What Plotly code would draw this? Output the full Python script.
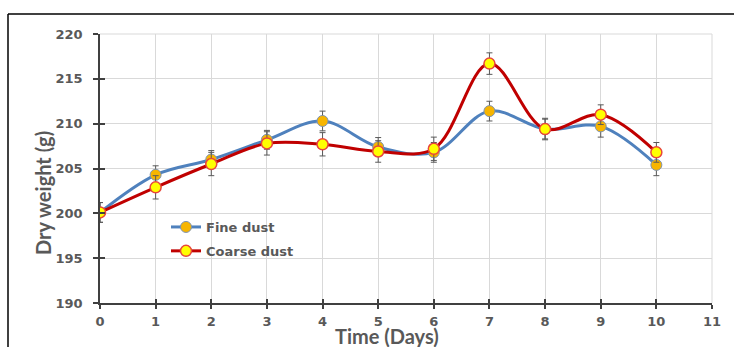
import plotly.graph_objects as go

days = [0, 1, 2, 3, 4, 5, 6, 7, 8, 9, 10]
fine = [200.1, 204.3, 206.0, 208.2, 210.3, 207.4, 206.8, 211.4, 209.4, 209.7, 205.4]
fine_err = [1.1, 1.0, 1.0, 1.05, 1.1, 1.05, 1.1, 1.1, 1.2, 1.2, 1.2]
coarse = [200.1, 202.9, 205.5, 207.8, 207.7, 206.9, 207.2, 216.7, 209.4, 211.0, 206.8]
coarse_err = [1.1, 1.3, 1.3, 1.3, 1.3, 1.2, 1.3, 1.2, 1.1, 1.1, 1.1]
x_ticks = list(range(0, 12))
y_ticks = [190, 195, 200, 205, 210, 215, 220]

W, H = 734, 347
L, R, T, B = 100, 22, 34, 44
pw, ph = W - L - R, H - T - B

def px_x(p):
    return (p - L) / pw

def px_y(p):
    return (H - B - p) / ph

GRAY = "#595959"
tick_font = dict(family="DejaVu Sans", size=13, color=GRAY, weight="bold")

fig = go.Figure()
fig.add_trace(go.Scatter(
    x=days, y=fine, name="Fine dust", mode="lines+markers", legendgroup="a",
    line=dict(color="#4F81BD", width=3, shape="spline"),
    marker=dict(size=11, color="#F7B500", line=dict(color="#7F93B0", width=1)),
    error_y=dict(type="data", array=fine_err, visible=True, color=GRAY, thickness=1, width=3),
))
fig.add_trace(go.Scatter(
    x=days, y=coarse, name="Coarse dust", mode="lines+markers", legendgroup="b",
    line=dict(color="#C00000", width=3, shape="spline"),
    marker=dict(size=11, color="#FFFF00", line=dict(color="#E8463C", width=1.5)),
    error_y=dict(type="data", array=coarse_err, visible=True, color=GRAY, thickness=1, width=3),
))

fig.update_layout(
    width=W, height=H,
    margin=dict(l=L, r=R, t=T, b=B),
    paper_bgcolor="white", plot_bgcolor="white",
    showlegend=True,
    legend=dict(x=px_x(166), y=px_y(212), xanchor="left", yanchor="top",
                bgcolor="rgba(0,0,0,0)", tracegroupgap=4, traceorder="grouped",
                font=dict(family="DejaVu Sans", size=13, color=GRAY, weight="bold")),
    xaxis=dict(range=[0, 11], tickvals=x_ticks, showgrid=True, gridcolor="#D9D9D9", gridwidth=1,
               showline=True, linecolor="#404040", linewidth=1.5,
               ticks="outside", ticklen=4, tickcolor="#404040", tickwidth=1.5,
               ticklabelstandoff=2,
               tickfont=tick_font, zeroline=False),
    yaxis=dict(range=[190, 220], tickvals=y_ticks, showgrid=True, gridcolor="#D9D9D9", gridwidth=1,
               showline=True, linecolor="#404040", linewidth=1.5,
               ticks="outside", ticklen=5, tickcolor="#404040", tickwidth=1.5,
               ticklabelstandoff=8,
               tickfont=tick_font, zeroline=False),
    xaxis2=dict(range=[0, 11], tickvals=x_ticks, overlaying="x", showgrid=False, showticklabels=False,
                ticks="inside", ticklen=4, tickcolor="#404040", tickwidth=1.5, side="bottom",
                zeroline=False, showline=False),
    yaxis2=dict(range=[190, 220], tickvals=y_ticks, overlaying="y", showgrid=False, showticklabels=False,
                ticks="inside", ticklen=5, tickcolor="#404040", tickwidth=1.5, side="left",
                zeroline=False, showline=False),
    annotations=[
        dict(text="Dry weight (g)", x=px_x(43), y=px_y(193), xref="paper", yref="paper",
             xanchor="center", yanchor="middle",
             textangle=-90, showarrow=False,
             font=dict(family="Lato", size=20, color=GRAY, weight="bold")),
        dict(text="Time (Days)", x=px_x(387), y=px_y(336), xref="paper", yref="paper",
             xanchor="center", yanchor="middle", borderpad=0,
             showarrow=False,
             font=dict(family="Lato", size=20, color=GRAY, weight="bold")),
    ],
    shapes=[
        dict(type="line", xref="paper", yref="paper", x0=px_x(8), x1=px_x(740), y0=px_y(14), y1=px_y(14),
             line=dict(color="black", width=1.5)),
        dict(type="line", xref="paper", yref="paper", x0=px_x(8), x1=px_x(8), y0=px_y(14), y1=px_y(350),
             line=dict(color="black", width=1.5)),
        dict(type="line", xref="paper", yref="paper", x0=1, x1=1, y0=0, y1=1,
             line=dict(color="#D9D9D9", width=1), layer="below"),
        dict(type="line", xref="paper", yref="paper", x0=0, x1=1, y0=1, y1=1,
             line=dict(color="#D9D9D9", width=1), layer="below"),
    ],
)
# invisible trace that activates the overlaid tick axes (crossing ticks)
fig.add_trace(go.Scatter(x=[0], y=[190], xaxis="x2", yaxis="y2", mode="markers",
                         marker=dict(opacity=0), showlegend=False, hoverinfo="skip"))

fig.write_html("out.html")
